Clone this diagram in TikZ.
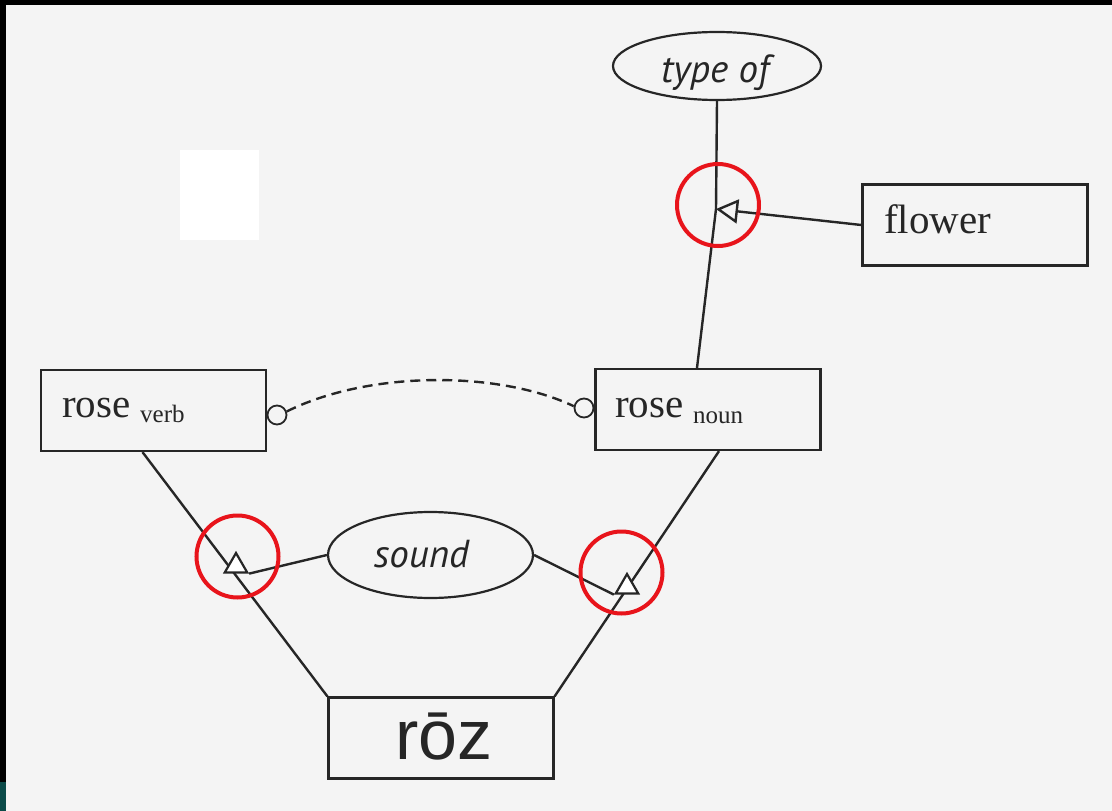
\documentclass[tikz,border=0pt]{standalone}
\usepackage{fontspec}
\setmainfont{Liberation Serif}
\newfontfamily\humfont{PT Sans}
\newfontfamily\rozfont{Liberation Sans}
\usetikzlibrary{shapes.geometric,arrows.meta,calc}
\definecolor{paper}{HTML}{F4F4F4}
\definecolor{ink}{HTML}{262626}
\definecolor{edgeteal}{HTML}{0B4A48}
\definecolor{markred}{HTML}{E8141B}
\begin{document}
\begin{tikzpicture}[x=1pt,y=-1pt,
  box/.style={draw=ink, line width=2.2pt, rectangle, inner sep=0pt, minimum width=225pt, minimum height=81pt},
  oval/.style={draw=ink, line width=2.2pt, ellipse, inner sep=0pt},
  tri/.style={draw=ink, fill=white, line width=2.2pt, regular polygon, regular polygon sides=3, inner sep=0pt, minimum size=26pt},
  ring/.style={draw=ink, circle, line width=1.8pt, inner sep=0pt, minimum size=19pt},
  redring/.style={draw=markred, circle, line width=4pt, inner sep=0pt, minimum size=82pt},
  conn/.style={draw=ink, line width=2.4pt},
  dashline/.style={dash pattern=on 10pt off 6pt},
  bigtxt/.style={inner sep=0pt, text=ink, font=\fontsize{41}{41}\selectfont},
  subtxt/.style={inner sep=0pt, text=ink, font=\fontsize{25}{25}\selectfont},
  itxt/.style={inner sep=0pt, text=ink, font=\humfont\itshape\fontsize{39}{39}\selectfont},
  roztxt/.style={inner sep=0pt, text=ink, font=\rozfont\fontsize{70}{70}\selectfont}]
\useasboundingbox (0,0) rectangle (1112,811);
\fill[paper] (0,0) rectangle (1112,811);
\fill[black] (0,0) rectangle (1112,5);
\fill[black] (0,0) rectangle (6,811);
\fill[edgeteal] (0,782) rectangle (6,811);
\fill[white] (180,150) rectangle (259,240);

% nodes
\node[oval, minimum width=208pt, minimum height=68pt] (typeof) at (717,66) {};
\node[oval, minimum width=205pt, minimum height=86pt] (sound) at (430.5,555) {};
\node[box] (verb) at (153.5,410.5) {};
\node[box] (noun) at (708,409.5) {};
\node[box] (flower) at (975,225) {};
\node[box] (roz) at (441,738) {};
\node[ring] (c1) at (277,415) {};
\node[ring] (c2) at (584,408) {};
\coordinate (j) at (716,209);

% texts
\node[itxt, anchor=base] (typeoftxt) at (715,82) {type of};
\node[itxt, anchor=base] (soundtxt) at (421.5,567) {sound};
\node[bigtxt, anchor=base west] (verbrose) at (62,417) {rose};
\node[subtxt, anchor=base west] (verbsub) at (140,422) {verb};
\node[bigtxt, anchor=base west] (nounrose) at (615,417) {rose};
\node[subtxt, anchor=base west] (nounsub) at (693,423) {noun};
\node[bigtxt, anchor=base west] (flowertxt) at (884,233) {flower};
\node[roztxt, anchor=base] (roztext) at (444,759) {rōz};

% connectors
\draw[conn] (typeof.south) -- (j);
\draw[conn] (j) -- ($(noun.north)+(-11,0)$);
\draw[conn, -{Triangle[open, length=22pt, width=24pt]}] (flower.west) -- (j);
\draw[conn] ($(verb.south)+(-11,0)$) -- (roz.north west);
\draw[conn] ($(noun.south)+(11,0)$) -- (roz.north east);
\draw[conn, dashline] (c1.20) .. controls (370,370) and (500,371) .. (c2.170);
\node[tri] (t1) at (236,566) {};
\node[tri] (t2) at (627,587) {};
\draw[conn] (sound.west) -- (t1.corner 3);
\draw[conn] (sound.east) -- (t2.corner 2);

% red markers
\node[redring] (m1) at (718,205) {};
\node[redring] (m2) at (237.5,556.5) {};
\node[redring] (m3) at (621.5,572.5) {};
\end{tikzpicture}
\end{document}
